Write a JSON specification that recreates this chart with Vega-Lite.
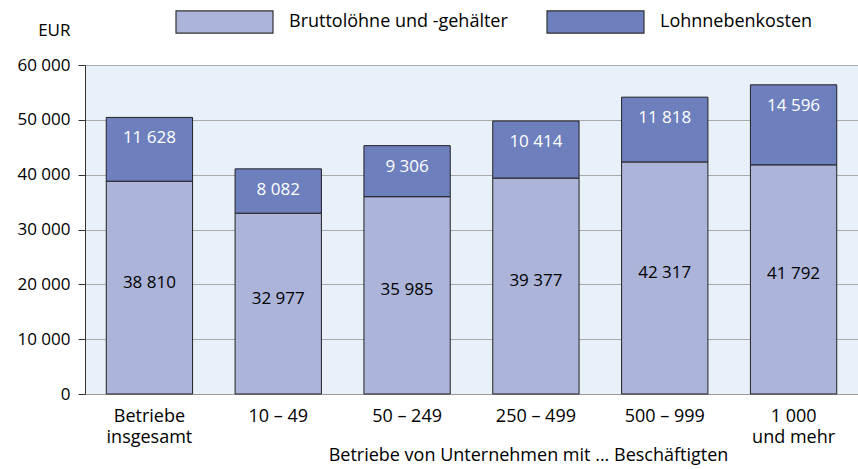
{
  "$schema": "https://vega.github.io/schema/vega-lite/v6.json",
  "autosize": {"type": "none"},
  "padding": {"left": 85, "top": 65, "right": 0, "bottom": 75},
  "width": 773,
  "height": 329,
  "background": "white",
  "config": {
    "font": "Open Sans",
    "view": {"fill": "#e8f0fa", "stroke": null},
    "locale": {"number": {"decimal": ",", "thousands": " ", "grouping": [3], "currency": ["", " €"]}}
  },
  "data": {
    "values": [
      {"group": "Betriebe insgesamt", "type": "Bruttolöhne und -gehälter", "value": 38810},
      {"group": "Betriebe insgesamt", "type": "Lohnnebenkosten", "value": 11628},
      {"group": "10 – 49", "type": "Bruttolöhne und -gehälter", "value": 32977},
      {"group": "10 – 49", "type": "Lohnnebenkosten", "value": 8082},
      {"group": "50 – 249", "type": "Bruttolöhne und -gehälter", "value": 35985},
      {"group": "50 – 249", "type": "Lohnnebenkosten", "value": 9306},
      {"group": "250 – 499", "type": "Bruttolöhne und -gehälter", "value": 39377},
      {"group": "250 – 499", "type": "Lohnnebenkosten", "value": 10414},
      {"group": "500 – 999", "type": "Bruttolöhne und -gehälter", "value": 42317},
      {"group": "500 – 999", "type": "Lohnnebenkosten", "value": 11818},
      {"group": "1 000 und mehr", "type": "Bruttolöhne und -gehälter", "value": 41792},
      {"group": "1 000 und mehr", "type": "Lohnnebenkosten", "value": 14596}
    ]
  },
  "encoding": {
    "x": {
      "field": "group",
      "type": "nominal",
      "sort": null,
      "scale": {"paddingInner": 0.33, "paddingOuter": 0.165},
      "axis": {
        "title": "Betriebe von Unternehmen mit ... Beschäftigten",
        "titleFont": "Open Sans",
        "titleFontSize": 18,
        "titleFontWeight": "normal",
        "titleColor": "black",
        "titleX": 443,
        "titleY": 61,
        "titleBaseline": "middle",
        "labelAngle": 0,
        "labelFontSize": 18,
        "labelColor": "black",
        "labelPadding": 13,
        "labelLineHeight": 21,
        "labelExpr": "datum.value == 'Betriebe insgesamt' ? ['Betriebe', 'insgesamt'] : datum.value == '1 000 und mehr' ? ['1 000', 'und mehr'] : datum.value",
        "ticks": false,
        "domainColor": "#999999",
        "domainWidth": 1.2
      }
    }
  },
  "layer": [
    {
      "mark": {"type": "bar", "stroke": "#222222", "strokeWidth": 1},
      "encoding": {
        "y": {
          "field": "value",
          "type": "quantitative",
          "aggregate": "sum",
          "stack": "zero",
          "scale": {"domain": [0, 60000], "nice": false},
          "axis": {
            "title": "EUR",
            "titleAngle": 0,
            "titleAlign": "right",
            "titleBaseline": "middle",
            "titleX": -15,
            "titleY": -35,
            "titleFontSize": 17,
            "titleFontWeight": "normal",
            "titleColor": "black",
            "values": [0, 10000, 20000, 30000, 40000, 50000, 60000],
            "format": ",d",
            "labelFontSize": 17,
            "labelColor": "black",
            "labelPadding": 8,
            "tickSize": 7,
            "tickColor": "#333333",
            "domainColor": "#333333",
            "grid": true,
            "gridColor": "#aaaaaa",
            "gridWidth": 1.2
          }
        },
        "color": {
          "field": "type",
          "type": "nominal",
          "scale": {"domain": ["Bruttolöhne und -gehälter", "Lohnnebenkosten"], "range": ["#adb4da", "#6e7fbe"]},
          "legend": {
            "title": null,
            "orient": "none",
            "direction": "horizontal",
            "legendX": 90,
            "legendY": -93,
            "padding": 0,
            "symbolType": "M-1,-0.23L1,-0.23L1,0.23L-1,0.23Z",
            "symbolSize": 9409,
            "symbolStrokeColor": "#333333",
            "symbolStrokeWidth": 1.2,
            "symbolOpacity": 1,
            "labelFontSize": 18,
            "labelColor": "black",
            "labelLimit": 400,
            "labelOffset": 15,
            "columnPadding": 36
          }
        },
        "order": {"field": "type", "sort": "ascending"}
      }
    },
    {
      "transform": [{"filter": "datum.type == 'Bruttolöhne und -gehälter'"}],
      "mark": {"type": "text", "fontSize": 17, "baseline": "alphabetic", "color": "black"},
      "encoding": {
        "y": {"field": "value", "type": "quantitative", "scale": {"domain": [0, 120000], "nice": false}, "axis": null},
        "text": {"field": "value", "type": "quantitative", "format": ","}
      }
    },
    {
      "transform": [
        {"stack": "value", "groupby": ["group"], "sort": [{"field": "type", "order": "ascending"}], "as": ["y0", "y1"]},
        {"filter": "datum.type == 'Lohnnebenkosten'"}
      ],
      "mark": {"type": "text", "fontSize": 17, "baseline": "middle", "dy": 21, "color": "white"},
      "encoding": {
        "y": {"field": "y1", "type": "quantitative", "scale": {"domain": [0, 60000], "nice": false}, "axis": null},
        "text": {"field": "value", "type": "quantitative", "format": ","}
      }
    }
  ],
  "resolve": {"scale": {"y": "independent"}}
}
